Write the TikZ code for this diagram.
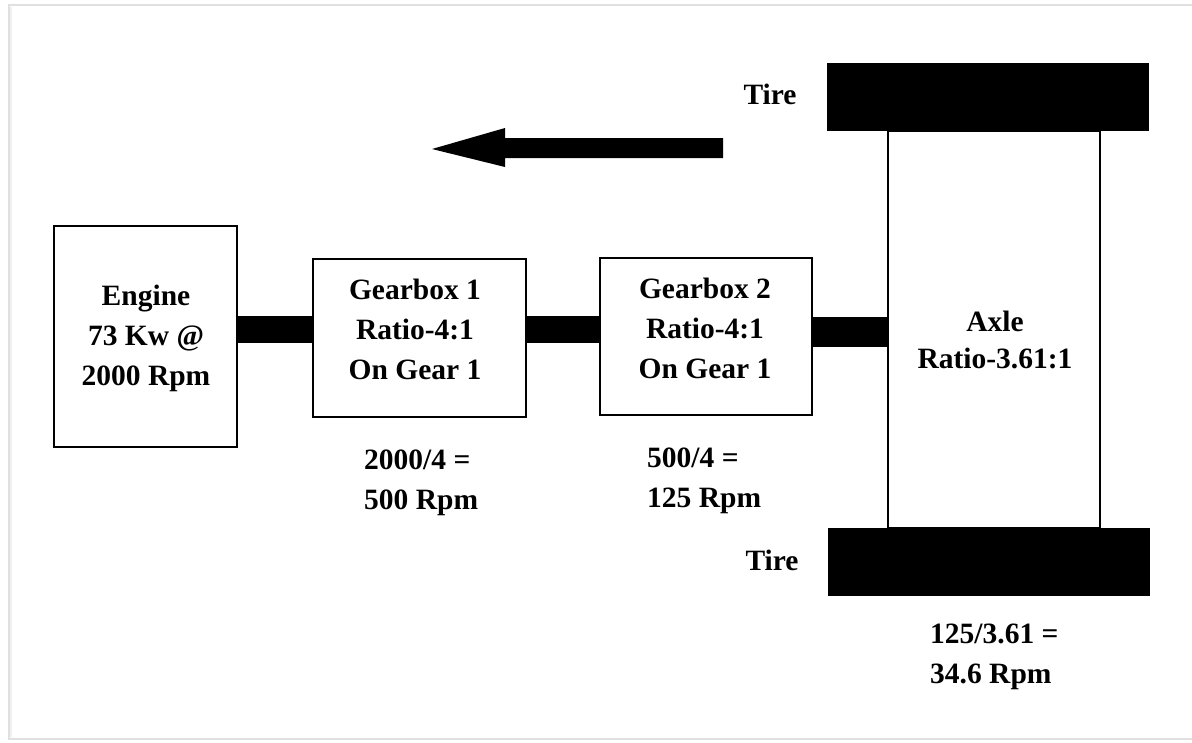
\documentclass[tikz,border=0pt]{standalone}
\usepackage{fontspec}
\setmainfont{Liberation Serif}
\begin{document}
\begin{tikzpicture}[x=1pt,y=-1pt,
  box/.style={draw=black,line width=2.6pt,fill=white},
  shaft/.style={fill=black},
  tire/.style={fill=black},
  lbl/.style={font=\bfseries\fontsize{29.5}{40}\selectfont,align=center,inner sep=0pt},
  lbll/.style={font=\bfseries\fontsize{29.5}{40}\selectfont,align=left,inner sep=0pt,anchor=west}]
\useasboundingbox (0,0) rectangle (1192,742);
% frame
\draw[black!12,line width=1.5pt] (1192,5) -- (9,5) -- (9,739) -- (1192,739);
\draw[black!6,line width=2pt] (11,7) -- (11,737);
% shafts
\fill[shaft] (237,316) rectangle (313,343);
\fill[shaft] (526,316) rectangle (600,343);
\fill[shaft] (812,317) rectangle (888,347);
% axle
\draw[line width=1.8pt] (888,131) rectangle (1100,528);
\fill[tire] (827,63) rectangle (1149,131);
\fill[tire] (828,528) rectangle (1150,596);
% boxes
\draw[box] (54,226) rectangle (237,447);
\draw[box] (313,259) rectangle (526,417);
\draw[box] (600,258) rectangle (812,415);
% texts
\node[lbl] (eng) at (146,338) {Engine\\73 Kw @\\2000 Rpm};
\node[lbl] (gb1) at (415,329) {Gearbox 1\\Ratio-4:1\\On Gear 1};
\node[lbl] (gb2) at (705,328) {Gearbox 2\\Ratio-4:1\\On Gear 1};
\node[lbl,font=\bfseries\fontsize{29.5}{37}\selectfont] (axle) at (995,340) {Axle\\Ratio-3.61:1};
\node[lbl] (t1) at (770,94) {Tire};
\node[lbl] (t2) at (772,560) {Tire};
\node[lbll] (r1) at (364,483) {2000/4 =\\500 Rpm};
\node[lbll] (r2) at (647,481) {500/4 =\\125 Rpm};
\node[lbll] (r3) at (930,657) {125/3.61 =\\34.6 Rpm};
% arrow
\fill[black] (723,138) -- (505,138) -- (505,128) -- (432,149) -- (505,167) -- (505,158) -- (723,158) -- cycle;
\end{tikzpicture}
\end{document}
